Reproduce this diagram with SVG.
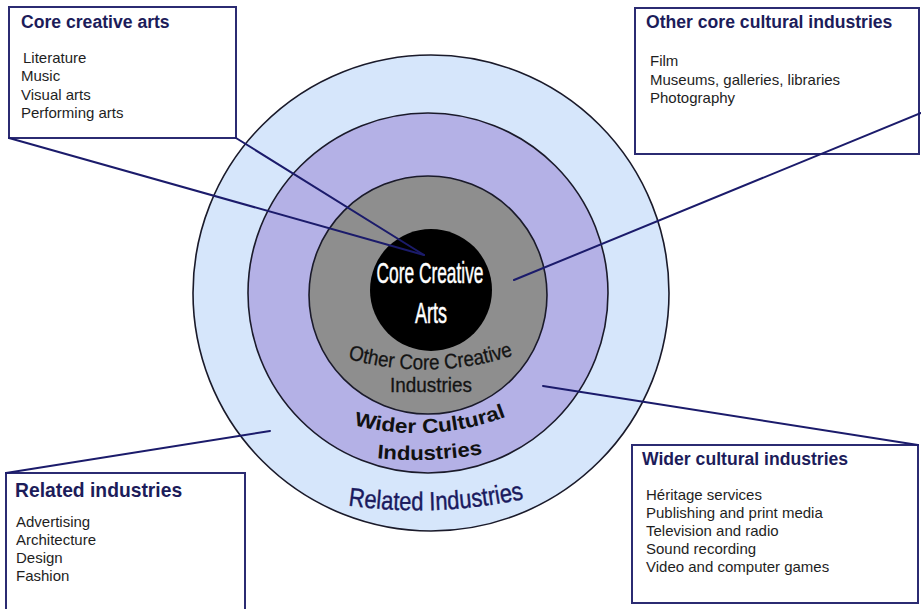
<svg xmlns="http://www.w3.org/2000/svg" width="921" height="609" viewBox="0 0 921 609">
  <style>
    .box { fill: #ffffff; stroke: #2b2b72; stroke-width: 2; }
    .ttl { font-family: "Liberation Sans", Arial, sans-serif; font-weight: bold; font-size: 17.6px; fill: #1c1c5a; }
    .itm { font-family: "Liberation Sans", Arial, sans-serif; font-size: 15px; fill: #1e1e1e; }
    .ring { stroke: #1a1a2a; stroke-width: 1.6; }
    .conn { stroke: #1b1b6b; stroke-width: 2; fill: none; stroke-linecap: round; }
    .lbl { font-family: "Liberation Sans Narrow", "Liberation Sans", Arial, sans-serif; }
    .core { fill: #ffffff; stroke: #ffffff; stroke-width: 0.5; }
    .dark { fill: #141414; stroke: #141414; stroke-width: 0.3; }
  </style>
  <defs>
    <path id="arcOther" d="M 342,357 A 280,280 0 0 0 520,353"/>
    <path id="arcWider" d="M 350,424 A 250,250 0 0 0 510,415"/>
    <path id="arcWiderInd" d="M 374,458 A 400,400 0 0 0 488,453"/>
    <path id="arcRelated" d="M 345,505 A 500,500 0 0 0 528,498"/>
  </defs>

  <rect width="921" height="609" fill="#ffffff"/>

  <!-- concentric rings -->
  <g id="rings">
    <circle id="ring-related" class="ring" cx="431" cy="293" r="238" fill="#d6e6fb"/>
    <circle id="ring-wider" class="ring" cx="428" cy="293" r="180" fill="#b4b1e6"/>
    <circle id="ring-other" class="ring" cx="428" cy="295" r="119" fill="#8e8e8e"/>
    <circle id="ring-core" cx="431" cy="290" r="61" fill="#000000"/>
  </g>

  <!-- text boxes -->
  <g id="box-core-arts">
    <rect class="box" x="9" y="7" width="227" height="131"/>
    <text class="ttl" x="21" y="28">Core creative arts</text>
    <text class="itm" x="23" y="63">Literature</text>
    <text class="itm" x="21" y="81">Music</text>
    <text class="itm" x="21" y="100">Visual arts</text>
    <text class="itm" x="21" y="118">Performing arts</text>
  </g>

  <g id="box-other-core">
    <rect class="box" x="635" y="8" width="284" height="146"/>
    <text class="ttl" x="646" y="28">Other core cultural industries</text>
    <text class="itm" x="650" y="66">Film</text>
    <text class="itm" x="650" y="85">Museums, galleries, libraries</text>
    <text class="itm" x="650" y="103">Photography</text>
  </g>

  <g id="box-related">
    <rect class="box" x="6" y="473" width="239" height="150"/>
    <text class="ttl" x="15" y="497" style="font-size:19.3px">Related industries</text>
    <text class="itm" x="16" y="527">Advertising</text>
    <text class="itm" x="16" y="545">Architecture</text>
    <text class="itm" x="16" y="563">Design</text>
    <text class="itm" x="16" y="581">Fashion</text>
  </g>

  <g id="box-wider">
    <rect class="box" x="632" y="445" width="286" height="158"/>
    <text class="ttl" x="642" y="465">Wider cultural industries</text>
    <text class="itm" x="646" y="500">Héritage services</text>
    <text class="itm" x="646" y="518">Publishing and print media</text>
    <text class="itm" x="646" y="536">Television and radio</text>
    <text class="itm" x="646" y="554">Sound recording</text>
    <text class="itm" x="646" y="572">Video and computer games</text>
  </g>

  <!-- leader lines -->
  <g id="connectors">
    <line class="conn" x1="9" y1="138" x2="424" y2="255"/>
    <line class="conn" x1="236" y1="138" x2="424" y2="255"/>
    <line class="conn" x1="921" y1="113" x2="514" y2="280"/>
    <line class="conn" x1="6" y1="473" x2="270" y2="431"/>
    <line class="conn" x1="918" y1="445" x2="543" y2="386"/>
  </g>

  <!-- ring labels -->
  <g id="ring-labels">
    <text class="lbl core" x="430" y="283" text-anchor="middle" font-size="30" textLength="107" lengthAdjust="spacingAndGlyphs">Core Creative</text>
    <text class="lbl core" x="431" y="323" text-anchor="middle" font-size="29" textLength="32" lengthAdjust="spacingAndGlyphs">Arts</text>
    <text class="lbl dark" font-size="21"><textPath href="#arcOther" startOffset="6" textLength="168" lengthAdjust="spacingAndGlyphs">Other Core Creative</textPath></text>
    <text class="lbl dark" x="431" y="392" text-anchor="middle" font-size="20" textLength="82" lengthAdjust="spacingAndGlyphs">Industries</text>
    <text font-family="Liberation Sans, Arial, sans-serif" font-weight="bold" font-size="20" fill="#111111"><textPath href="#arcWider" startOffset="4" textLength="155" lengthAdjust="spacingAndGlyphs">Wider Cultural</textPath></text>
    <text font-family="Liberation Sans, Arial, sans-serif" font-weight="bold" font-size="20" fill="#111111"><textPath href="#arcWiderInd" startOffset="3" textLength="106" lengthAdjust="spacingAndGlyphs">Industries</textPath></text>
    <text font-family="Liberation Sans, Arial, sans-serif" font-size="26" fill="#1a1a5e" stroke="#1a1a5e" stroke-width="0.4"><textPath href="#arcRelated" startOffset="3" textLength="177" lengthAdjust="spacingAndGlyphs">Related Industries</textPath></text>
  </g>
</svg>
